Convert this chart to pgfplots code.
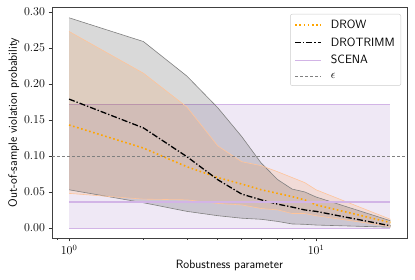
\documentclass[border=0pt]{standalone}
\usepackage{pgfplots}
\pgfplotsset{compat=1.18}
\definecolor{droworange}{HTML}{FFA500}
\definecolor{bandorange}{HTML}{FF7F0E}
\definecolor{edgeorange}{HTML}{FFC49A}
\definecolor{scenaline}{HTML}{D2B4E6}
\definecolor{scenafill}{HTML}{9467BD}
\newcommand{\lf}{\sffamily\fontsize{12}{14}\selectfont}
\begin{document}
\begin{tikzpicture}
\useasboundingbox (-52pt,-42pt) rectangle (363pt,238pt);
\begin{axis}[
  scale only axis, width=355pt, height=231pt,
  xmode=log, xmin=0.853, xmax=23.35, ymin=-0.014, ymax=0.307,
  ytick={0,0.05,0.1,0.15,0.2,0.25,0.3},
  yticklabel style={/pgf/number format/.cd,fixed,fixed zerofill,precision=2},
  tick label style={font=\fontsize{12}{14}\selectfont},
  label style={font=\sffamily\fontsize{12}{14}\selectfont},
  xlabel={Robustness parameter},
  ylabel={Out-of-sample violation probability},
  xlabel style={yshift=1pt},
  ylabel style={yshift=-2pt},
  tick align=outside, xtick pos=left, ytick pos=left,
  major tick length=3.5pt, minor tick length=2pt,
  axis line style={black!75, line width=0.8pt},
  every tick/.style={black!80, line width=0.6pt},
  legend style={at={(1,1)}, xshift=-6pt, yshift=-7pt, anchor=north east,
    draw=black!20, rounded corners=2pt,
    row sep=3.5pt, column sep=7pt, inner sep=4pt},
  legend cell align=left,
  legend image code/.code={\draw[#1] (0pt,0pt) -- (26pt,0pt);},
]
% SCENA band
\addplot[forget plot, fill=scenafill, fill opacity=0.15, draw=none]
  coordinates {(1,0.172) (20,0.172) (20,0) (1,0)} -- cycle;
\addplot[forget plot, scenaline, line width=0.8pt] coordinates {(1,0.172) (20,0.172)};
\addplot[forget plot, scenaline, line width=0.8pt] coordinates {(1,0) (20,0)};
% DROTRIMM band
\addplot[forget plot, fill=black, fill opacity=0.15, draw=none] coordinates {
 (1,0.292) (2,0.259) (3,0.211) (4,0.167) (5,0.127) (6,0.090) (7,0.067) (8,0.054) (9,0.050) (10,0.043) (20,0.010)
 (20,0.001) (10,0.004) (9,0.005) (8,0.0055) (7,0.009) (6,0.012) (5,0.0135) (4,0.017) (3,0.023) (2,0.035) (1,0.053)} -- cycle;
% DROW band
\addplot[forget plot, fill=bandorange, fill opacity=0.13, draw=none] coordinates {
 (1,0.273) (2,0.215) (3,0.168) (4,0.114) (5,0.092) (6,0.0865) (7,0.078) (8,0.070) (9,0.063) (10,0.053) (20,0.012)
 (20,0.002) (10,0.017) (9,0.020) (8,0.020) (7,0.025) (6,0.027) (5,0.032) (4,0.034) (3,0.039) (2,0.040) (1,0.048)} -- cycle;
% band edges
\addplot[forget plot, black!50, line width=0.6pt] coordinates {
 (1,0.292) (2,0.259) (3,0.211) (4,0.167) (5,0.127) (6,0.090) (7,0.067) (8,0.054) (9,0.050) (10,0.043) (20,0.010)};
\addplot[forget plot, black!50, line width=0.6pt] coordinates {
 (1,0.053) (2,0.035) (3,0.023) (4,0.017) (5,0.0135) (6,0.012) (7,0.009) (8,0.0055) (9,0.005) (10,0.004) (20,0.001)};
\addplot[forget plot, edgeorange, line width=0.6pt] coordinates {
 (1,0.273) (2,0.215) (3,0.168) (4,0.114) (5,0.092) (6,0.0865) (7,0.078) (8,0.070) (9,0.063) (10,0.053) (20,0.012)};
\addplot[forget plot, edgeorange, line width=0.6pt] coordinates {
 (1,0.048) (2,0.040) (3,0.039) (4,0.034) (5,0.032) (6,0.027) (7,0.025) (8,0.020) (9,0.020) (10,0.017) (20,0.002)};
% lines
\addplot[droworange, line width=1.6pt, dash pattern=on 1.6pt off 2.6pt] coordinates {
 (1,0.143) (2,0.111) (3,0.085) (4,0.070) (5,0.061) (6,0.053) (7,0.048) (8,0.0435) (9,0.039) (10,0.032) (20,0.0075)};
\addlegendentry{\lf DROW}
\addplot[black, line width=1.3pt, dash pattern=on 6pt off 2pt on 1.3pt off 2pt] coordinates {
 (1,0.179) (2,0.139) (3,0.099) (4,0.067) (5,0.047) (6,0.039) (7,0.033) (8,0.029) (9,0.025) (10,0.023) (20,0.003)};
\addlegendentry{\lf DROTRIMM}
\addplot[scenaline, line width=1.6pt] coordinates {(1,0.036) (20,0.036)};
\addlegendentry{\lf SCENA}
\addplot[black!50, line width=0.8pt, dash pattern=on 3pt off 2pt] coordinates {(0.853,0.1) (23.35,0.1)};
\addlegendentry{\lf $\epsilon$}
\end{axis}
\end{tikzpicture}
\end{document}
